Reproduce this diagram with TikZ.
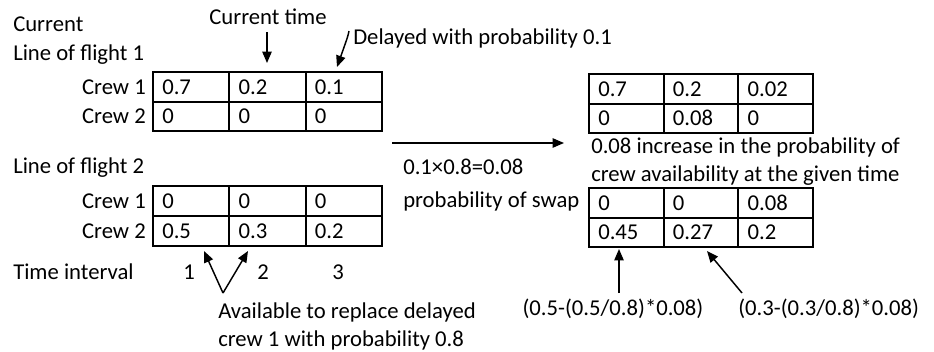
\documentclass[tikz,border=0pt]{standalone}
\usepackage{fontspec}
\setmainfont{Carlito}
\usetikzlibrary{arrows.meta}

% draws a 2x3 table of probabilities; #1 prefix, #2 left, #3 top, #4 col width, #5 row height,
% #6 entries as row/column/text
\newcommand\probgrid[6]{%
  \draw[gridline] (#2,#3) rectangle ({#2+3*#4},{#3+2*#5});
  \draw[gridline] (#2,{#3+#5}) -- ({#2+3*#4},{#3+#5});
  \draw[gridline] ({#2+#4},#3) -- ({#2+#4},{#3+2*#5});
  \draw[gridline] ({#2+2*#4},#3) -- ({#2+2*#4},{#3+2*#5});
  \foreach \r/\c/\t [count=\k] in {#6}
    \node[lbl, anchor=base west, name=#1-\k] at ({#2+(\c-1)*#4+9},{#3+(\r-0.5)*#5+7.5}) {\t};
}

\begin{document}
\begin{tikzpicture}[x=0.75pt, y=-0.75pt,
  lbl/.style={inner sep=0pt, font=\fontsize{17}{20}\selectfont},
  gridline/.style={line width=1.5pt, line cap=rect},
  arr/.style={line width=1.1pt, -{Triangle[length=8.5pt, width=7pt]}}]
\useasboundingbox (0,0) rectangle (934,351);

% ---- left side: current state ----
\node[lbl, anchor=base west] (cur) at (13,31) {Current};
\node[lbl, anchor=base west] (lof1) at (13,60) {Line of flight 1};
\node[lbl, anchor=base] (ctime) at (268,24) {Current time};
\node[lbl, anchor=base west] (delay) at (353,44) {Delayed with probability 0.1};

\probgrid{a}{153}{72}{76.3}{29.5}{1/1/0.7, 1/2/0.2, 1/3/0.1, 2/1/0, 2/2/0, 2/3/0}
\node[lbl, anchor=base east] (a-c1) at (146,94) {Crew 1};
\node[lbl, anchor=base east] (a-c2) at (146,123.5) {Crew 2};

\node[lbl, anchor=base west] (lof2) at (13,173) {Line of flight 2};

\probgrid{b}{153}{186}{76.3}{30}{1/1/0, 1/2/0, 1/3/0, 2/1/0.5, 2/2/0.3, 2/3/0.2}
\node[lbl, anchor=base east] (b-c1) at (146,208.5) {Crew 1};
\node[lbl, anchor=base east] (b-c2) at (146,238.5) {Crew 2};

\node[lbl, anchor=base west] (tint) at (13,279) {Time interval};
\node[lbl, anchor=base] (t1) at (189,279) {1};
\node[lbl, anchor=base] (t2) at (263,279) {2};
\node[lbl, anchor=base] (t3) at (338,279) {3};

\node[lbl, anchor=base west] (avail1) at (218,318) {Available to replace delayed};
\node[lbl, anchor=base west] (avail2) at (218,346) {crew 1 with probability 0.8};

% arrows on the left
\coordinate (ctTail) at (267,32);
\coordinate (ctTip) at (267,63);
\draw[arr] (ctTail) -- (ctTip);
\coordinate (dTail) at (349,31);
\coordinate (dTip) at (337,67);
\draw[arr] (dTail) .. controls (348,36) .. (dTip);
\coordinate (vee) at (223,293);
\coordinate (veeA) at (204,251);
\coordinate (veeB) at (248,251);
\draw[arr] (vee) -- (veeA);
\draw[arr] (vee) -- (veeB);

% ---- middle: the swap ----
\coordinate (swTail) at (392,143);
\coordinate (swTip) at (564,143);
\draw[arr] (swTail) -- (swTip);
\node[lbl, anchor=base west] (prod) at (403,174) {0.1×0.8=0.08};
\node[lbl, anchor=base west] (pswap) at (403,207) {probability of swap};

% ---- right side: state after the swap ----
\probgrid{c}{589}{74}{74.7}{29.5}{1/1/0.7, 1/2/0.2, 1/3/0.02, 2/1/0, 2/2/0.08, 2/3/0}
\node[lbl, anchor=base west] (inc1) at (591,153) {0.08 increase in the probability of};
\node[lbl, anchor=base west] (inc2) at (591,181) {crew availability at the given time};
\probgrid{d}{589}{188}{74.7}{29.5}{1/1/0, 1/2/0, 1/3/0.08, 2/1/0.45, 2/2/0.27, 2/3/0.2}

\node[lbl, anchor=base] (f1) at (613,315) {(0.5-(0.5/0.8)*0.08)};
\node[lbl, anchor=base west] (f2) at (738,315) {(0.3-(0.3/0.8)*0.08)};
\coordinate (upTail) at (619,293);
\coordinate (upTip) at (619,249);
\draw[arr] (upTail) -- (upTip);
\coordinate (diTail) at (742,293);
\coordinate (diTip) at (707,251);
\draw[arr] (diTail) -- (diTip);
\end{tikzpicture}
\end{document}
